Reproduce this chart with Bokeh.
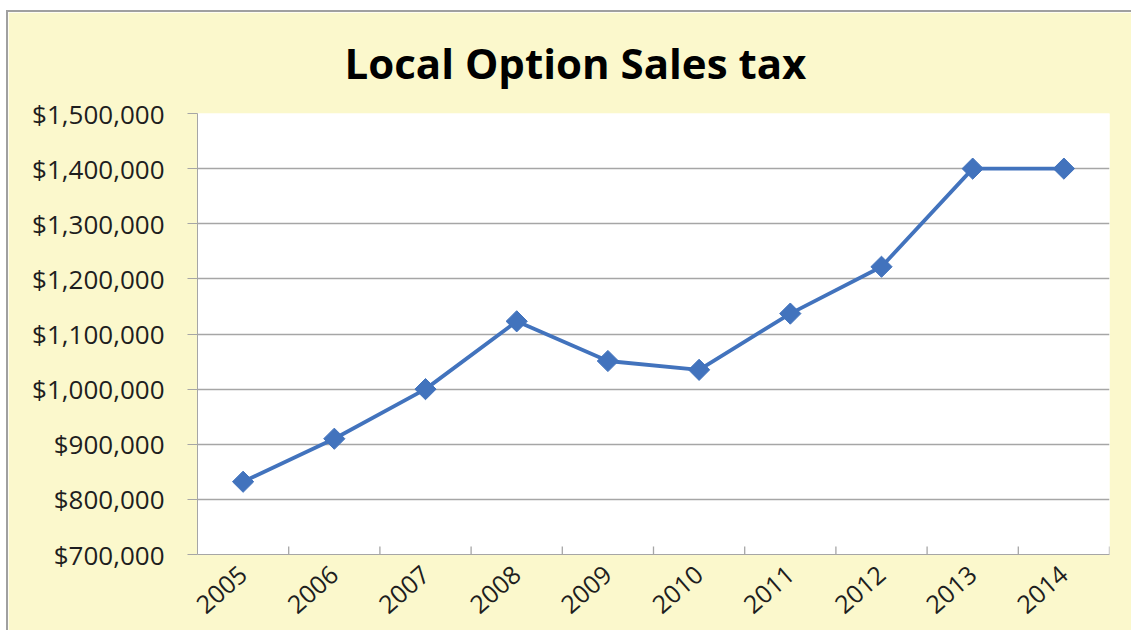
import math
from bokeh.plotting import figure
from bokeh.models import Range1d, NumeralTickFormatter, FixedTicker, ColumnDataSource
from bokeh.transform import dodge
from bokeh.embed import file_html
from bokeh.resources import INLINE

years = ["2005", "2006", "2007", "2008", "2009", "2010", "2011", "2012", "2013", "2014"]
sales_tax = [832000, 910000, 1000000, 1123000, 1051000, 1035000, 1137000, 1222000, 1400000, 1400000]
y_ticks = [700000, 800000, 900000, 1000000, 1100000, 1200000, 1300000, 1400000, 1500000]
title_text = "Local Option Sales tax"

BG = "#FBF8CC"
LINE = "#4273BD"
GRID = "#A6A6A6"
TXT = "#1E1E1E"

p = figure(x_range=years, y_range=Range1d(700000, 1500000),
           width=1125, height=620, output_backend="svg", toolbar_location=None,
           min_border_left=189, min_border_right=24, min_border_top=101, min_border_bottom=78,
           title=title_text)
p.styles = {"margin-left": "6px", "margin-top": "10px",
            "border-left": "2px solid #A0A0A0", "border-top": "2px solid #A0A0A0"}
p.background_fill_color = "white"
p.border_fill_color = BG
p.outline_line_color = None

p.title.align = "left"
p.title.vertical_align = "top"
p.title.offset = 147
p.title.standoff = 42
p.title.text_font = "Open Sans"
p.title.text_font_style = "bold"
p.title.text_font_size = "42px"
p.title.text_color = "black"

# axes
p.yaxis.ticker = FixedTicker(ticks=y_ticks)
p.yaxis.formatter = NumeralTickFormatter(format="$0,0")
p.yaxis.major_label_text_font = "Open Sans"
p.yaxis.major_label_text_font_size = "26px"
p.yaxis.major_label_text_color = TXT
p.yaxis.major_tick_out = 10
p.yaxis.major_tick_in = 0
p.yaxis.minor_tick_line_color = None
p.yaxis.axis_line_color = GRID
p.yaxis.major_tick_line_color = GRID
p.yaxis.major_label_standoff = 23

p.xaxis.major_label_orientation = 0.72
p.xaxis.major_label_text_font = "Open Sans"
p.xaxis.major_label_text_font_size = "25px"
p.xaxis.major_label_text_color = TXT
p.xaxis.major_tick_line_color = None
p.xaxis.axis_line_color = GRID
p.xaxis.major_label_standoff = 10

p.xgrid.grid_line_color = None
p.ygrid.grid_line_color = GRID
p.ygrid.grid_line_width = 1.3

# category-boundary tick marks (inside, Excel style)
src = ColumnDataSource(dict(year=years, y0=[700000]*len(years), y1=[714500]*len(years)))
p.segment(x0=dodge("year", 0.5, range=p.x_range), y0="y0",
          x1=dodge("year", 0.5, range=p.x_range), y1="y1",
          source=src, line_color=GRID, line_width=1.3)

# data
p.line(years, sales_tax, line_color=LINE, line_width=3.8)
p.scatter(years, sales_tax, marker="square", angle=math.pi/4, size=15,
          fill_color=LINE, line_color=LINE)

open("out.html", "w").write(file_html(p, INLINE))
